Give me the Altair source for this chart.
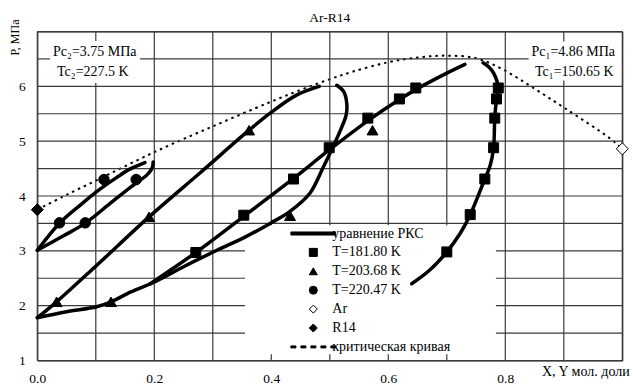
import altair as alt
import pandas as pd

FONT = "Liberation Serif, DejaVu Serif, serif"

# ---------------- data ----------------
# experimental points
sq_x = [0.271, 0.353, 0.438, 0.499, 0.565, 0.619, 0.647, 0.700, 0.740, 0.765, 0.780, 0.782, 0.785, 0.788]
sq_p = [2.97, 3.65, 4.31, 4.88, 5.42, 5.77, 5.97, 2.98, 3.66, 4.31, 4.88, 5.42, 5.77, 5.97]
tri_x = [0.033, 0.191, 0.362, 0.126, 0.432, 0.573]
tri_p = [2.07, 3.62, 5.20, 2.07, 3.64, 5.20]
cir_x = [0.038, 0.114, 0.082, 0.169]
cir_p = [3.51, 4.30, 3.51, 4.30]
ar_x = [1.0]
ar_p = [4.86]
r14_x = [0.0]
r14_p = [3.75]

# PR (РКС) equation curves
b181_x = [0.193, 0.271, 0.353, 0.438, 0.499, 0.566, 0.619, 0.647, 0.700, 0.731]
b181_p = [2.40, 2.97, 3.63, 4.32, 4.84, 5.38, 5.76, 5.94, 6.24, 6.40]
d181_x = [0.640, 0.671, 0.700, 0.723, 0.740, 0.765, 0.774, 0.780, 0.782, 0.785, 0.788, 0.780, 0.771, 0.762]
d181_p = [2.40, 2.65, 2.98, 3.32, 3.66, 4.31, 4.55, 4.88, 5.42, 5.77, 5.97, 6.24, 6.36, 6.43]
b203_x = [0.0, 0.033, 0.100, 0.191, 0.278, 0.362, 0.398, 0.443, 0.482]
b203_p = [1.78, 2.07, 2.72, 3.62, 4.42, 5.20, 5.51, 5.84, 6.00]
d203_x = [0.0, 0.050, 0.1015, 0.126, 0.160, 0.204, 0.250, 0.307, 0.355, 0.398, 0.432, 0.466, 0.489, 0.503, 0.517, 0.528, 0.529, 0.524, 0.512]
d203_p = [1.78, 1.89, 1.98, 2.07, 2.25, 2.45, 2.71, 3.01, 3.25, 3.50, 3.72, 4.05, 4.53, 4.84, 5.17, 5.48, 5.69, 5.90, 6.02]
b220_x = [0.0, 0.0376, 0.073, 0.1015, 0.136, 0.158, 0.184]
b220_p = [3.01, 3.50, 3.83, 4.08, 4.34, 4.49, 4.61]
d220_x = [0.0, 0.044, 0.0815, 0.124, 0.158, 0.176, 0.186, 0.193, 0.197, 0.198]
d220_p = [3.01, 3.27, 3.50, 3.86, 4.15, 4.29, 4.37, 4.45, 4.53, 4.62]

# critical curve
crit_x = [0.0, 0.044, 0.100, 0.200, 0.300, 0.395, 0.449, 0.500, 0.540, 0.600, 0.654, 0.700, 0.751, 0.797, 0.848, 0.902, 0.979, 1.0]
crit_p = [3.75, 3.99, 4.28, 4.80, 5.27, 5.70, 5.93, 6.13, 6.27, 6.44, 6.53, 6.56, 6.51, 6.30, 5.97, 5.60, 5.05, 4.86]

legend_labels = ["уравнение РКС", "T=181.80 K", "T=203.68 K", "T=220.47 K", "Ar", "R14", "критическая кривая"]
x_ticks = [round(i * 0.1, 1) for i in range(11)]
y_ticks = [1 + i * 0.5 for i in range(13)]

# boxes (legend area and the two annotation boxes) that hide the grid, in axis units
boxes = [(0.355, 0.784, 1.115, 3.465), (0.0217, 0.1756, 6.06, 6.827), (0.840, 1.0, 6.106, 6.818)]

# ---------------- tables ----------------
curve_rows = []
for name, xs_, ps_ in [("b181", b181_x, b181_p), ("d181", d181_x, d181_p),
                       ("b203", b203_x, b203_p), ("d203", d203_x, d203_p),
                       ("b220", b220_x, b220_p), ("d220", d220_x, d220_p)]:
    for i, (xv, pv) in enumerate(zip(xs_, ps_)):
        curve_rows.append({"x": xv, "p": pv, "curve": name, "idx": i})
curves = pd.DataFrame(curve_rows)
crit = pd.DataFrame({"x": crit_x, "p": crit_p, "idx": list(range(len(crit_x)))})


def cut(lo, hi, holes):
    segs = [(lo, hi)]
    for a, b in holes:
        nxt = []
        for s, e in segs:
            if b <= s or a >= e:
                nxt.append((s, e))
            else:
                if a > s:
                    nxt.append((s, a))
                if b < e:
                    nxt.append((b, e))
        segs = nxt
    return segs


# grid segments (from the tick arrays), interrupted behind the boxes
grid_rows = []
gid = 0
for v in x_ticks:
    holes = [(y0, y1) for (x0, x1, y0, y1) in boxes if x0 < v < x1]
    for s, e in cut(1, 7, holes):
        grid_rows.append({"g": f"v{gid}", "k": 0, "gx": v, "gp": s})
        grid_rows.append({"g": f"v{gid}", "k": 1, "gx": v, "gp": e})
        gid += 1
for v in y_ticks:
    holes = [(x0, x1) for (x0, x1, y0, y1) in boxes if y0 < v < y1]
    for s, e in cut(0, 1, holes):
        grid_rows.append({"g": f"h{gid}", "k": 0, "gx": s, "gp": v})
        grid_rows.append({"g": f"h{gid}", "k": 1, "gx": e, "gp": v})
        gid += 1
grid_df = pd.DataFrame(grid_rows)


def pts(xv, pv, label):
    return pd.DataFrame({"x": xv, "p": pv, "series": [label] * len(xv)})


# legend symbols: solid bar and dashed bar as custom paths
line_path = "M-5.6,-0.38H5.6V0.38H-5.6Z"
dash_path = "".join(
    f"M{-5.6 + 2.5 * i:.2f},-0.25H{-5.6 + 2.5 * i + 1.25:.2f}V0.25H{-5.6 + 2.5 * i:.2f}Z" for i in range(5)
)
shape_range = [line_path, "square", "triangle-up", "circle", "diamond", "diamond", dash_path]
fill_range = ["black", "black", "black", "black", "white", "black", "black"]
stroke_range = ["black"] * 7

leg = alt.Legend(
    orient="none", legendX=269, legendY=195, title=None,
    labelFont=FONT, labelFontSize=14, labelColor="black", labelOffset=12,
    symbolSize=64, rowPadding=4.9, padding=0, symbolStrokeWidth=1,
)

xs = alt.Scale(domain=[0, 1], nice=False, zero=False)
ys = alt.Scale(domain=[1, 7], nice=False, zero=False)

x_axis = alt.Axis(
    values=x_ticks, format=".1f",
    labelExpr="(round(datum.value*10) % 2 == 0 && datum.value < 0.95) ? datum.label : ''",
    grid=False, ticks=False, domain=False,
    labelFont=FONT, labelFontSize=13.5, labelColor="black", labelPadding=11,
    labelFlush=False, labelOverlap=False,
    title="X, Y мол. доли", titleX=548, titleY=11, titleAlign="center", titleBaseline="middle",
    titleFont=FONT, titleFontSize=14, titleFontWeight="normal", titleColor="black",
)
y_axis = alt.Axis(
    values=y_ticks, format=".0f",
    labelExpr="(datum.value % 1 == 0 && datum.value < 6.5) ? datum.label : ''",
    grid=False, ticks=False, domain=False,
    labelFont=FONT, labelFontSize=13.5, labelColor="black", labelPadding=12,
    labelFlush=False, labelOverlap=False,
    title=None,
)

one = alt.Data(values=[{"a": 1}])

crit_layer = alt.Chart(crit).mark_line(
    color="black", strokeWidth=2, strokeDash=[2.5, 4], interpolate="catmull-rom"
).encode(
    x=alt.X("x:Q", scale=xs, axis=x_axis),
    y=alt.Y("p:Q", scale=ys, axis=y_axis),
    order="idx:Q",
)

grid_layer = alt.Chart(grid_df).mark_line(
    stroke="#3a3a3a", color="#3a3a3a", strokeWidth=1.2, opacity=1, interpolate="linear"
).encode(
    x=alt.X("gx:Q", scale=xs, axis=x_axis),
    y=alt.Y("gp:Q", scale=ys, axis=y_axis),
    detail="g:N",
    order="k:Q",
)

curve_layer = alt.Chart(curves).mark_line(
    color="black", strokeWidth=3.5, interpolate="catmull-rom", strokeCap="round", strokeJoin="round"
).encode(
    x=alt.X("x:Q", scale=xs, axis=x_axis),
    y=alt.Y("p:Q", scale=ys, axis=y_axis),
    detail="curve:N",
    order="idx:Q",
)


def point_layer(df, size):
    return alt.Chart(df).mark_point(filled=True, strokeWidth=1, opacity=1, size=size).encode(
        x=alt.X("x:Q", scale=xs, axis=x_axis),
        y=alt.Y("p:Q", scale=ys, axis=y_axis),
        shape=alt.Shape("series:N", scale=alt.Scale(domain=legend_labels, range=shape_range), legend=leg),
        fill=alt.Fill("series:N", scale=alt.Scale(domain=legend_labels, range=fill_range), legend=leg),
        stroke=alt.Stroke("series:N", scale=alt.Scale(domain=legend_labels, range=stroke_range), legend=leg),
    )


point_layers = [
    point_layer(pts(sq_x, sq_p, "T=181.80 K"), 100),
    point_layer(pts(tri_x, tri_p, "T=203.68 K"), 120),
    point_layer(pts(cir_x, cir_p, "T=220.47 K"), 110),
    point_layer(pts(ar_x, ar_p, "Ar"), 144),
    point_layer(pts(r14_x, r14_p, "R14"), 144),
]


def note(txt, px, py, size=14, angle=0):
    return alt.Chart(one).mark_text(font=FONT, fontSize=size, color="black", align="center",
                                    baseline="middle", angle=angle).encode(
        x=alt.value(px), y=alt.value(py), text=alt.value(txt))


texts = [
    note("Pc₂=3.75 МПа", 57.5, 20.5),
    note("Tc₂=227.5 K", 55.5, 40.5),
    note("Pc₁=4.86 МПа", 536, 20.5),
    note("Tc₁=150.65 K", 537, 40.5),
    note("Ar-R14", 292.5, -13.5, size=13.5),
    note("P, МПа", -22, 6, size=12, angle=270),
]

chart = alt.layer(crit_layer, grid_layer, curve_layer, *point_layers, *texts).properties(
    width=585, height=329,
    autosize=alt.AutoSizeParams(type="none"),
    padding={"left": 37.3, "top": 31.5, "right": 10.7, "bottom": 24.5},
    background="white",
).configure_view(
    stroke="black", strokeWidth=1
)

chart.save("out.html", embed_options={"renderer": "svg", "actions": False})
